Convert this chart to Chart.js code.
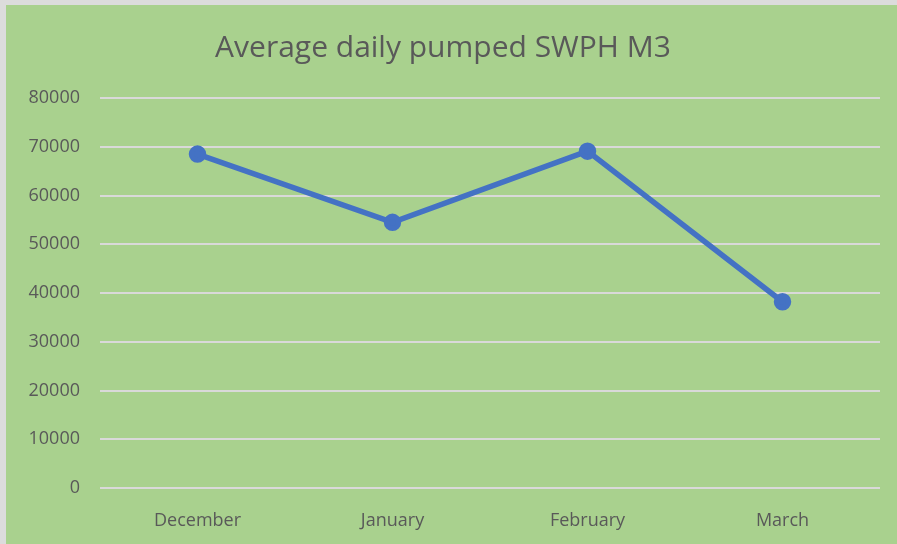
<!DOCTYPE html>
<html>
<head>
<meta charset="utf-8">
<script src="https://cdn.jsdelivr.net/npm/chart.js@4"></script>
<style>
  html, body { margin: 0; padding: 0; background: #dcdcdc; }
  #wrap { position: absolute; left: 6px; top: 5px; width: 891px; height: 539px; }
</style>
</head>
<body>
<div id="wrap"><canvas id="chart"></canvas></div>
<script>
const months = ["December", "January", "February", "March"];
const pumped = [68500, 54500, 69100, 38200];
const yTicks = { min: 0, max: 80000, step: 10000 };

// fill the whole canvas green like the excel chart area
const bgPlugin = {
  id: "bg",
  beforeDraw(chart) {
    const ctx = chart.ctx;
    ctx.save();
    ctx.fillStyle = "#a9d18e";
    ctx.fillRect(0, 0, chart.width, chart.height);
    ctx.restore();
  }
};

const config = {
  type: "line",
  data: {
    labels: months,
    datasets: [
      {
        label: "Average daily pumped",
        data: pumped,
        borderColor: "#4472c4",
        backgroundColor: "#4472c4",
        borderWidth: 5.5,
        pointRadius: 6,
        pointHoverRadius: 6,
        tension: 0
      }
    ]
  },
  options: {
    responsive: true,
    maintainAspectRatio: false,
    animation: false,
    layout: { padding: { left: 0, right: 17, top: 0, bottom: 0 } },
    plugins: {
      legend: { display: false },
      tooltip: { enabled: false },
      title: {
        display: true,
        text: "Average daily pumped SWPH M3",
        color: "#595959",
        font: { family: "Open Sans", size: 30, weight: "normal" },
        padding: { top: 25, bottom: 32 }
      }
    },
    scales: {
      x: {
        offset: true,
        grid: { display: false },
        border: { display: false },
        ticks: {
          color: "#595959",
          font: { family: "Open Sans", size: 18 },
          padding: 14
        },
        afterFit(scale) { scale.height = 56; }
      },
      y: {
        min: yTicks.min,
        max: yTicks.max,
        grid: { color: "#d9d9d9", lineWidth: 2, drawTicks: false },
        border: { display: false },
        ticks: {
          stepSize: yTicks.step,
          color: "#595959",
          font: { family: "Open Sans", size: 18 },
          padding: 20,
          callback: (v) => String(v)
        },
        afterFit(scale) { scale.width = 94; }
      }
    }
  },
  plugins: [bgPlugin]
};

new Chart(document.getElementById("chart"), config);
</script>
</body>
</html>
